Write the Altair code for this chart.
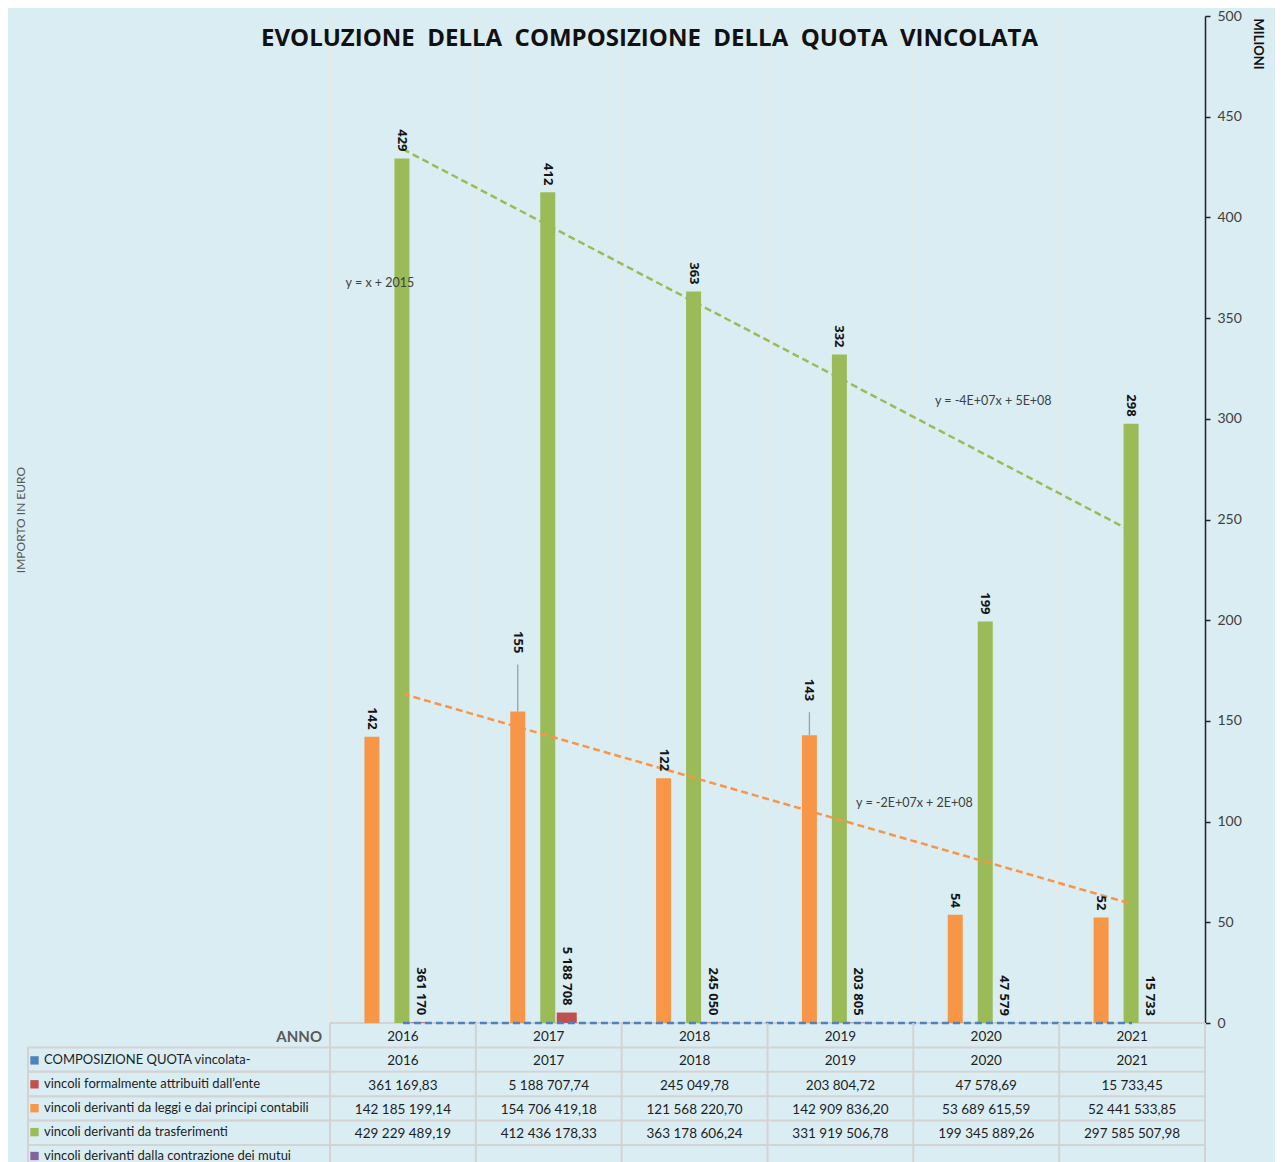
import altair as alt
import pandas as pd

# ---------------- data ----------------
years = ["2016", "2017", "2018", "2019", "2020", "2021"]
composizione = [2016, 2017, 2018, 2019, 2020, 2021]
vincoli_ente = [361169.83, 5188707.74, 245049.78, 203804.72, 47578.69, 15733.45]
vincoli_leggi = [142185199.14, 154706419.18, 121568220.70, 142909836.20, 53689615.59, 52441533.85]
vincoli_trasf = [429229489.19, 412436178.33, 363178606.24, 331919506.78, 199345889.26, 297585507.98]
vincoli_mutui = [None, None, None, None, None, None]

series_names = [
    "COMPOSIZIONE QUOTA vincolata-",
    "vincoli formalmente attribuiti dall\u2019ente",
    "vincoli derivanti da leggi e dai principi contabili",
    "vincoli derivanti da trasferimenti",
    "vincoli derivanti dalla contrazione dei mutui",
]
series_colors = ["#4f81bd", "#c0504d", "#f79646", "#9bbb59", "#8064a2"]
ytick_values = [0, 50, 100, 150, 200, 250, 300, 350, 400, 450, 500]

eq_texts = ["y = x + 2015", "y = -4E+07x + 5E+08", "y = -2E+07x + 2E+08"]
eq_years = ["2016", "2020", "2019"]
eq_values = [367.4, 308.8, 109.2]

title_words = ["EVOLUZIONE", "DELLA", "COMPOSIZIONE", "DELLA", "QUOTA", "VINCOLATA"]
header_label = "ANNO"

S_BLUE, S_RED, S_ORANGE, S_GREEN, S_PURPLE = series_names


def it_num(v):
    s = f"{v:,.2f}"
    return s.replace(",", " ").replace(".", ",")


def grouped_int(v):
    return f"{round(v):,}".replace(",", " ")


rows = []
all_series = [composizione, vincoli_ente, vincoli_leggi, vincoli_trasf, vincoli_mutui]
for s_name, vals in zip(series_names, all_series):
    for y, v in zip(years, vals):
        if v is None:
            rows.append(dict(year=y, series=s_name, value=None, mil=None, cell="", lab=""))
            continue
        if s_name == S_BLUE:
            cell = str(v)
            lab = ""
        else:
            cell = it_num(v)
            lab = grouped_int(v) if s_name == S_RED else str(round(v / 1e6))
        rows.append(dict(year=y, series=s_name, value=v, mil=v / 1e6, cell=cell, lab=lab))
df = pd.DataFrame(rows)

row_domain = [header_label] + series_names
hdr = pd.DataFrame(dict(year=years, series=[header_label] * 6, cell=years))
table_df = pd.concat([hdr, df[["year", "series", "cell"]]], ignore_index=True)
eq_df = pd.DataFrame(dict(txt=eq_texts, year=eq_years, mil=eq_values))
years_df = pd.DataFrame(dict(year=years))
rows_df = pd.DataFrame(dict(series=row_domain))

# ---------------- scales / encodings ----------------
W, H = 875, 1007
PX_PER_UNIT = H / 500
FONT = "Lato"
xscale = alt.Scale(domain=years, paddingInner=0, paddingOuter=0)
yscale = alt.Scale(domain=[0, 500], nice=False)
cscale = alt.Scale(domain=series_names, range=series_colors)

x_none = alt.X("year:N", scale=xscale, axis=None)
y_right = alt.Y("mil:Q", scale=yscale,
                axis=alt.Axis(orient="right", values=ytick_values, grid=False,
                              title="MILIONI", titleAngle=90, titleX=52, titleY=2,
                              titleAlign="left", titleBaseline="middle",
                              titleFontWeight="bold", titleFontSize=13, titleColor="#111111",
                              titleFont=FONT,
                              labelFontSize=14, labelColor="#404040", labelFont=FONT,
                              labelPadding=7, tickSize=5, tickColor="#222222", tickWidth=1.5,
                              domainColor="#222222", domainWidth=1.5))
y_left = alt.Y("mil:Q", scale=yscale,
               axis=alt.Axis(orient="left", labels=False, ticks=False, domain=False, grid=False,
                             title="IMPORTO IN EURO", titlePadding=303, titleFontSize=12,
                             titleFontWeight="normal", titleColor="#595959", titleFont=FONT))
y_none = alt.Y("mil:Q", scale=yscale, axis=None)

base_src = alt.Chart(df)
GRID_C = "#d3d3d3"

# vertical grid lines at the column boundaries of the plot
vgrid = alt.Chart(years_df).mark_rule(color="#eee8d6", strokeWidth=1.5).encode(
    x=alt.X("year:N", scale=xscale, bandPosition=0, axis=None))
baseline = alt.Chart(years_df).mark_rule(color=GRID_C, strokeWidth=2).encode(
    y=alt.datum(0, scale=yscale, axis=None))

axis_left_layer = base_src.transform_filter(alt.datum.series == S_GREEN).mark_bar(
    opacity=0).encode(x=x_none, y=y_left)


def bars(series, color, xoff, w, first=False):
    return base_src.transform_filter(alt.datum.series == series).mark_bar(
        color=color, width=w, xOffset=xoff).encode(x=x_none, y=y_right if first else y_none)


LABEL_STYLE = dict(angle=90, align="right", baseline="middle", fontWeight="bold",
                   fontSize=13, color="#141414", font="Open Sans")
RAISED = {"2017": 51, "2019": 27}   # orange labels lifted (px) with a leader line


def labels(series, xoff, skip=()):
    src = base_src.transform_filter(alt.datum.series == series)
    if skip:
        src = src.transform_filter(~alt.FieldOneOfPredicate(field="year", oneOf=list(skip)))
    return src.mark_text(dx=-7, xOffset=xoff, **LABEL_STYLE).encode(
        x=x_none, y=y_none, text="lab:N")


def raised_label(series, year, xoff, lift):
    src = base_src.transform_filter(
        (alt.datum.series == series) & (alt.datum.year == year))
    lab = src.mark_text(dx=-7 - lift, xOffset=xoff, **LABEL_STYLE).encode(
        x=x_none, y=y_none, text="lab:N")
    lead = src.transform_calculate(
        top=f"datum.mil + {(lift - 4) / PX_PER_UNIT}"
    ).mark_rule(color="#a0a0a0", strokeWidth=1.3, xOffset=xoff).encode(
        x=x_none, y=y_none, y2="top:Q")
    return [lead, lab]


green_bars = bars(S_GREEN, "#9bbb59", -1, 15, first=True)
orange_bars = bars(S_ORANGE, "#f79646", -31, 15)
red_bars = bars(S_RED, "#c0504d", 18, 20)

trend = base_src.transform_filter(
    alt.FieldOneOfPredicate(field="series", oneOf=[S_BLUE, S_ORANGE, S_GREEN])
).transform_calculate(
    idx="toNumber(datum.year) - 2015"
).transform_regression(
    "idx", "mil", groupby=["series"]
).transform_calculate(
    year="toString(datum.idx + 2015)"
).mark_line(strokeDash=[7, 4], strokeWidth=2.5).encode(
    x=x_none, y=y_none, detail="series:N",
    color=alt.Color("series:N", scale=cscale, legend=None))


def eq_layer(i, dx):
    return alt.Chart(eq_df).transform_filter(alt.datum.txt == eq_texts[i]).mark_text(
        dx=dx, fontSize=12.5, color="#404040", font=FONT).encode(
        x=x_none, y=y_none, text="txt:N")


raised_layers = []
for yr, lift in RAISED.items():
    raised_layers += raised_label(S_ORANGE, yr, -31, lift)

NB = "\u00a0\u00a0"
main = alt.layer(
    vgrid, baseline, axis_left_layer,
    orange_bars, green_bars, red_bars,
    trend,
    labels(S_ORANGE, -31, skip=tuple(RAISED)), *raised_layers,
    labels(S_GREEN, -1), labels(S_RED, 18),
    eq_layer(0, -23), eq_layer(1, 7), eq_layer(2, 74),
).properties(
    width=W, height=H,
    title=alt.TitleParams(
        NB.join(title_words),
        font="Open Sans", fontSize=24, fontWeight="bold", color="#111111",
        anchor="middle", frame="bounds", offset=-42, dx=11),
)

# ---------------- table ----------------
ROW_H = 24.4
TH = ROW_H * len(row_domain)
TXT_DY = 1.5

rscale = alt.Scale(domain=row_domain, paddingInner=0, paddingOuter=0)
y_tab = alt.Y("series:N", scale=rscale, axis=None)

tab_vlines = alt.Chart(years_df).mark_rule(color=GRID_C, strokeWidth=2).encode(
    x=alt.X("year:N", scale=xscale, bandPosition=0, axis=None))
tab_vlast = alt.Chart(years_df).transform_filter(alt.datum.year == years[-1]).mark_rule(
    color=GRID_C, strokeWidth=2).encode(
    x=alt.X("year:N", scale=xscale, bandPosition=1, axis=None))
tab_hlines = alt.Chart(rows_df).transform_filter(alt.datum.series != header_label).mark_rule(
    color=GRID_C, strokeWidth=2).encode(
    y=alt.Y("series:N", scale=rscale, bandPosition=0, axis=None))
tab_hlast = alt.Chart(rows_df).transform_filter(alt.datum.series == row_domain[-1]).mark_rule(
    color=GRID_C, strokeWidth=2).encode(
    y=alt.Y("series:N", scale=rscale, bandPosition=1, axis=None))

tab_text = alt.Chart(table_df).mark_text(fontSize=13.5, color="#1e1e1e", font=FONT,
                                         dy=TXT_DY).encode(
    x=x_none, y=y_tab, text="cell:N")

anno_label = alt.Chart(rows_df).transform_filter(alt.datum.series == header_label).mark_text(
    align="right", baseline="middle", dx=-8, dy=TXT_DY, fontSize=15, fontWeight="bold",
    color="#595959", font=FONT).encode(
    x=alt.value(0), y=y_tab, text="series:N")

hdr_cells = alt.Chart(df).transform_filter(alt.datum.year == years[0]).mark_rect(
    fill="transparent", stroke=GRID_C, strokeWidth=2).encode(
    x=alt.value(-302), x2=alt.value(0), y=y_tab)

legend_keys = alt.Chart(df).transform_filter(alt.datum.year == years[0]).mark_square(
    opacity=0).encode(
    x=x_none, y=y_tab,
    color=alt.Color("series:N", scale=cscale, legend=alt.Legend(
        title=None, orient="none", legendX=-302, legendY=ROW_H + 5 + TXT_DY,
        symbolType="square", symbolSize=70, symbolOpacity=1, symbolStrokeWidth=0,
        labelFontSize=13, labelFont=FONT, labelColor="#1e1e1e", labelLimit=400,
        labelOffset=3, rowPadding=ROW_H - 14.5, padding=0)))

table = alt.layer(tab_vlines, tab_vlast, tab_hlines, tab_hlast, hdr_cells, tab_text,
                  anno_label, legend_keys).properties(width=W, height=TH)

chart = alt.vconcat(main, table, spacing=0, bounds="flush").resolve_scale(
    color="independent").resolve_legend(color="independent").properties(
    background="#daedf3",
    padding={"left": 6, "right": 12, "top": 1, "bottom": 10},
).configure_view(stroke=None)

chart.save("out.html", embed_options={"renderer": "svg", "actions": False})
